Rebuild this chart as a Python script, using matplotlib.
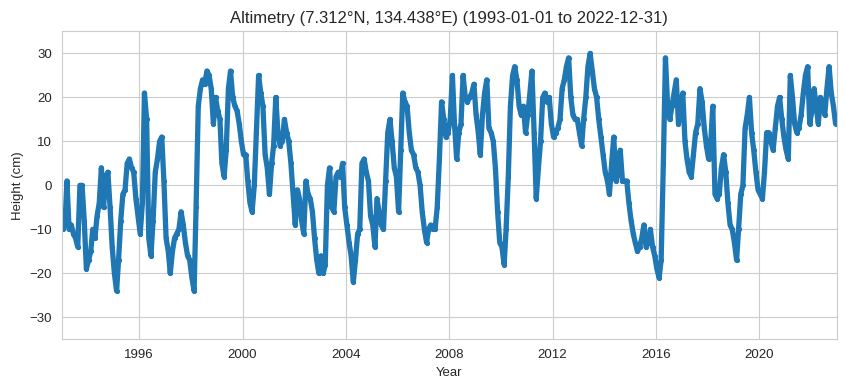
import matplotlib
matplotlib.use("Agg")
import matplotlib.pyplot as plt
import matplotlib.dates as mdates
import pandas as pd
import seaborn as sns

# monthly sea surface height (cm), Jan 1993 .. Dec 2022
h1993 = [-10, -9, 1, -10, -9, -11, -12, -14, 0, 0, -8, -19]
h1994 = [-17, -15, -10, -12, -7, -4, 4, -5, 2, 3, -5, -14]
h1995 = [-20, -24, -17, -8, -2, -1, 5, 6, 4, 3, -3, -7]
h1996 = [-11, -4, 21, 15, -12, -16, -8, 3, 6, 10, 11, 1]
h1997 = [-12, -15, -20, -15, -12, -11, -10, -6, -9, -13, -16, -17]
h1998 = [-21, -24, -5, 18, 22, 24, 23, 26, 25, 22, 14, 20]
h1999 = [17, 15, 5, 2, 8, 22, 26, 20, 18, 17, 14, 10]
h2000 = [7, 7, 1, -4, -6, 0, 12, 25, 21, 18, 7, 4]
h2001 = [-2, 5, 9, 20, 12, 9, 10, 15, 12, 10, 5, -2]
h2002 = [-9, -1, -3, -8, -11, 1, -2, -3, -6, -12, -17, -20]
h2003 = [-16, -20, -18, 0, 4, -5, -6, 2, 3, 2, 5, -5]
h2004 = [-9, -13, -16, -22, -17, -11, -10, 5, 6, 3, 1, -7]
h2005 = [-9, -14, -3, -6, -9, -10, 1, 12, 15, 10, 4, 2]
h2006 = [-6, 8, 21, 19, 18, 12, 8, 7, 4, 3, 0, -6]
h2007 = [-10, -13, -10, -9, -10, -10, -5, 6, 19, 15, 11, 12]
h2008 = [15, 25, 14, 6, 12, 14, 25, 20, 19, 20, 21, 23]
h2009 = [16, 12, 7, 16, 21, 24, 13, 12, 10, 4, -6, -13]
h2010 = [-14, -18, -10, 2, 18, 25, 27, 24, 18, 16, 18, 12]
h2011 = [16, 21, 26, 12, -3, 4, 10, 20, 21, 19, 20, 14]
h2012 = [11, 12, 13, 15, 22, 24, 27, 29, 20, 16, 15, 15]
h2013 = [12, 9, 15, 20, 27, 30, 26, 22, 20, 15, 11, 7]
h2014 = [3, 1, -2, 5, 11, 1, 3, 8, 1, 1, 1, -4]
h2015 = [-8, -11, -13, -15, -14, -12, -9, -14, -13, -10, -14, -16]
h2016 = [-19, -21, -17, 5, 29, 18, 15, 18, 21, 24, 14, 18]
h2017 = [21, 10, 6, 3, 2, 7, 12, 14, 22, 19, 13, 9]
h2018 = [6, 10, 18, -2, -3, -2, 4, 7, 3, -4, -9, -10]
h2019 = [-13, -17, -10, -2, 0, 13, 16, 20, 12, 8, 3, -1]
h2020 = [-2, -3, 3, 12, 12, 10, 8, 13, 18, 20, 15, 11]
h2021 = [8, 6, 25, 20, 14, 12, 13, 16, 21, 25, 27, 14]
h2022 = [17, 22, 18, 14, 20, 19, 16, 22, 27, 21, 18, 14]

height = (h1993 + h1994 + h1995 + h1996 + h1997 + h1998 + h1999 + h2000
          + h2001 + h2002 + h2003 + h2004 + h2005 + h2006 + h2007 + h2008
          + h2009 + h2010 + h2011 + h2012 + h2013 + h2014 + h2015 + h2016
          + h2017 + h2018 + h2019 + h2020 + h2021 + h2022)
dates = pd.date_range("1993-01-01", periods=len(height), freq="MS") + pd.Timedelta(days=14)

sns.set_style("whitegrid")
plt.rcParams["font.family"] = ["Liberation Sans", "DejaVu Sans"]

fig = plt.figure(figsize=(8.46, 3.88), dpi=100)
ax = fig.add_axes([0.073, 0.1255, 0.916, 0.7935])
ax.plot(dates, height, ".-", color="#1f77b4", ms=5.5, lw=3.8)

ax.set_xlim(pd.Timestamp("1993-01-01"), pd.Timestamp("2022-12-31"))
ax.set_ylim(-35, 35)
ax.xaxis.set_major_locator(mdates.YearLocator(4))
ax.xaxis.set_major_formatter(mdates.DateFormatter("%Y"))
ax.tick_params(labelsize=9.5)
ax.set_xlabel("Year", fontsize=9.5)
ax.set_ylabel("Height (cm)", fontsize=9.5)
ax.set_title("Altimetry (7.312°N, 134.438°E) (1993-01-01 to 2022-12-31)", fontsize=12)

fig.savefig("out.png", dpi=100)
